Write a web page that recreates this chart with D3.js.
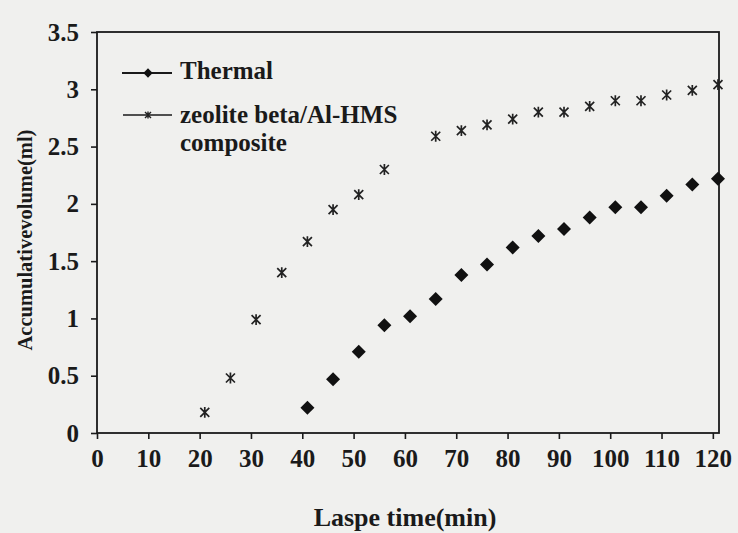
<!DOCTYPE html>
<html>
<head>
<meta charset="utf-8">
<script src="https://cdn.jsdelivr.net/npm/d3@7"></script>
<style>
  body { margin: 0; background: #f0f0ee; }
  svg text { font-family: "Liberation Serif", "DejaVu Serif", serif; font-weight: bold; fill: #1a1a1a; }
</style>
</head>
<body>
<div id="chart"></div>
<script>
// time points (min) and accumulative volume (ml)
const thermalTime = [41, 46, 51, 56, 61, 66, 71, 76, 81, 86, 91, 96, 101, 106, 111, 116, 121];
const thermalVol = [0.22, 0.47, 0.71, 0.94, 1.02, 1.17, 1.38, 1.47, 1.62, 1.72, 1.78, 1.88, 1.97, 1.97, 2.07, 2.17, 2.22];

const zeoTime = [21, 26, 31, 36, 41, 46, 51, 56, 66, 71, 76, 81, 86, 91, 96, 101, 106, 111, 116, 121];
const zeoVol = [0.18, 0.48, 0.99, 1.40, 1.67, 1.95, 2.08, 2.30, 2.59, 2.64, 2.69, 2.74, 2.80, 2.80, 2.85, 2.90, 2.90, 2.95, 2.99, 3.04];

const xTicks = [0, 10, 20, 30, 40, 50, 60, 70, 80, 90, 100, 110, 120];
const yTicks = [0, 0.5, 1, 1.5, 2, 2.5, 3, 3.5];
const seriesNames = ["Thermal", "zeolite beta/Al-HMS", "composite"];

const W = 738, H = 533;
const margin = { top: 32, right: 19, bottom: 100, left: 97 };
const width = W - margin.left - margin.right;
const height = H - margin.top - margin.bottom;

const svg = d3.select("#chart").append("svg")
  .attr("width", W)
  .attr("height", H);

const g = svg.append("g")
  .attr("transform", "translate(" + margin.left + "," + margin.top + ")");

const x = d3.scaleLinear().domain([0, 121.2]).range([0, width]);
const y = d3.scaleLinear().domain([0, 3.5]).range([height, 0]);

// axes
const xAxis = g.append("g")
  .attr("transform", "translate(0," + height + ")")
  .call(d3.axisBottom(x).tickValues(xTicks).tickSize(6).tickPadding(10).tickFormat(d3.format("d")));

const yAxis = g.append("g")
  .call(d3.axisLeft(y).tickValues(yTicks).tickSize(6).tickPadding(12).tickFormat(d => d));

[xAxis, yAxis].forEach(a => {
  a.select(".domain").remove();
  a.selectAll("line").attr("stroke", "#1a1a1a").attr("stroke-width", 1.6);
  a.selectAll("text").style("font-size", "25px");
});

// frame
g.append("rect")
  .attr("x", 0).attr("y", 0)
  .attr("width", width).attr("height", height)
  .attr("fill", "none")
  .attr("stroke", "#1a1a1a")
  .attr("stroke-width", 1.8);

// axis labels
svg.append("text")
  .attr("x", 405)
  .attr("y", 526)
  .attr("text-anchor", "middle")
  .style("font-size", "26px")
  .text("Laspe time(min)");

svg.append("text")
  .attr("transform", "translate(32,240) rotate(-90)")
  .attr("text-anchor", "middle")
  .style("font-size", "20.5px")
  .text("Accumulativevolume(ml)");

// markers
const diamond = d3.symbol().type(d3.symbolDiamond2);
const star = s => "M" + (-s) + "," + (-s) + "L" + s + "," + s +
  "M" + s + "," + (-s) + "L" + (-s) + "," + s +
  "M0," + (-s * 1.2) + "L0," + (s * 1.2);

const thermal = thermalTime.map((t, i) => ({ t: t, v: thermalVol[i] }));
const zeo = zeoTime.map((t, i) => ({ t: t, v: zeoVol[i] }));

g.selectAll(".thermal")
  .data(thermal)
  .enter().append("path")
  .attr("class", "thermal")
  .attr("transform", d => "translate(" + x(d.t) + "," + y(d.v) + ")")
  .attr("d", diamond.size(125))
  .attr("fill", "#111");

g.selectAll(".zeo")
  .data(zeo)
  .enter().append("path")
  .attr("class", "zeo")
  .attr("transform", d => "translate(" + x(d.t) + "," + y(d.v) + ")")
  .attr("d", star(4.5))
  .attr("stroke", "#222")
  .attr("stroke-width", 1.7)
  .attr("fill", "none");

// legend
const legend = svg.append("g");

legend.append("line")
  .attr("x1", 122).attr("x2", 172)
  .attr("y1", 73).attr("y2", 73)
  .attr("stroke", "#1a1a1a").attr("stroke-width", 1.8);
legend.append("path")
  .attr("transform", "translate(148,73)")
  .attr("d", diamond.size(55))
  .attr("fill", "#111");
legend.append("text")
  .attr("x", 180).attr("y", 79)
  .style("font-size", "25px")
  .text(seriesNames[0]);

legend.append("line")
  .attr("x1", 123).attr("x2", 172)
  .attr("y1", 115).attr("y2", 115)
  .attr("stroke", "#1a1a1a").attr("stroke-width", 1.4);
legend.append("path")
  .attr("transform", "translate(148,115)")
  .attr("d", star(3))
  .attr("stroke", "#222").attr("stroke-width", 1.4).attr("fill", "none");
legend.append("text")
  .attr("x", 180).attr("y", 123)
  .style("font-size", "25px")
  .text(seriesNames[1]);
legend.append("text")
  .attr("x", 180).attr("y", 151)
  .style("font-size", "25px")
  .text(seriesNames[2]);
</script>
</body>
</html>
